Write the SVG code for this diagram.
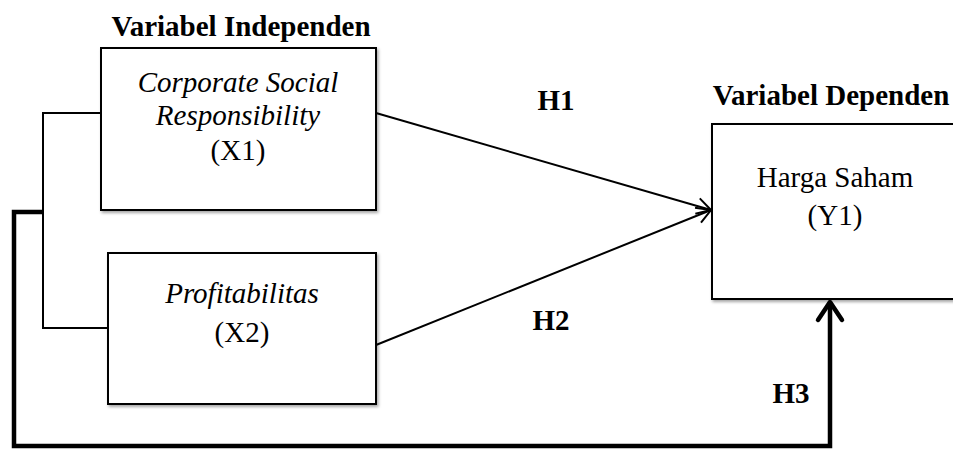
<svg xmlns="http://www.w3.org/2000/svg" width="953" height="450" viewBox="0 0 953 450">
<style>
.box{fill:#fff;stroke:#000;stroke-width:2;filter:url(#sh)}
.t{font-family:"Liberation Serif","Times New Roman",serif;font-size:29px;fill:#000;text-anchor:middle}
.i{font-style:italic}
.b{font-weight:bold}
.thin{fill:none;stroke:#000;stroke-width:2}
.thick{fill:none;stroke:#000;stroke-width:4.5}
</style>
<defs>
<filter id="sh" x="-5%" y="-5%" width="115%" height="115%">
<feDropShadow dx="1.5" dy="2" stdDeviation="1.5" flood-color="#000" flood-opacity="0.35"/>
</filter>
<marker id="oa" markerWidth="20" markerHeight="20" refX="16" refY="10" orient="auto" markerUnits="userSpaceOnUse">
<path d="M2,2 L16,10 L2,18" fill="none" stroke="#000" stroke-width="2"/>
</marker>
</defs>
<rect width="953" height="450" fill="#fff"/>
<text class="t b" x="241" y="36" font-size="35">Variabel Independen</text>
<text class="t b" x="831" y="105" font-size="30.5">Variabel Dependen</text>
<g id="connectors">
<polyline class="thin" points="101,113 43,113 43,328 108,328"/>
<polyline class="thick" points="43,212 14,212 14,446 830,446 830,302"/>
<polyline class="thick" points="818,320 830,302 842,320" stroke-linecap="round" stroke-linejoin="round"/>
<line class="thin" x1="376" y1="113" x2="711" y2="210" marker-end="url(#oa)"/>
<line class="thin" x1="376" y1="345" x2="711" y2="210" marker-end="url(#oa)"/>
<text class="t b" x="556" y="110" font-size="30.5">H1</text>
<text class="t b" x="551" y="330" font-size="30.5">H2</text>
<text class="t b" x="791" y="403" font-size="30.5">H3</text>
</g>
<g id="x1">
<rect class="box" x="101" y="48" width="275" height="162"/>
<text class="t i" x="238" y="92">Corporate Social</text>
<text class="t i" x="238" y="125">Responsibility</text>
<text class="t" x="238" y="160">(X1)</text>
</g>
<g id="x2">
<rect class="box" x="108" y="253" width="268" height="151"/>
<text class="t i" x="242" y="303">Profitabilitas</text>
<text class="t" x="242" y="342">(X2)</text>
</g>
<g id="y1">
<rect class="box" x="712" y="124" width="250" height="175"/>
<text class="t" x="835" y="187">Harga Saham</text>
<text class="t" x="835" y="225">(Y1)</text>
</g>
</svg>
